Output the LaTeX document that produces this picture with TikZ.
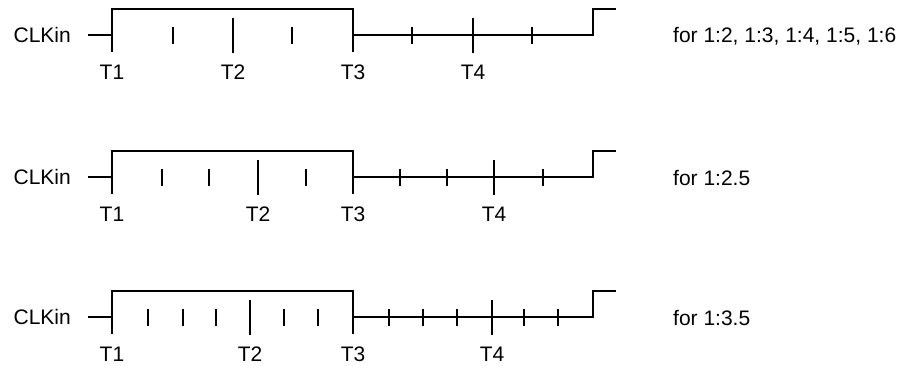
\documentclass[tikz,border=0pt]{standalone}
\usepackage{fontspec}
\setmainfont{Liberation Sans}
\usetikzlibrary{positioning}

\begin{document}
\begin{tikzpicture}[x=1pt, y=-1pt,
wave/.style={line width=2.5pt},
lbl/.style={inner sep=0pt, font=\fontsize{21}{25}\selectfont},
]
\useasboundingbox (0,0) rectangle (909,366);

%Row 1
\begin{scope}[yshift=-35pt]
\node[lbl, anchor=east] (clk1)   at (71,0)  {CLKin};
\node[lbl]              (t1a)    at (112,37) {T1};
\node[lbl]              (t2a)    at (233,37) {T2};
\node[lbl]              (t3a)    at (353,37) {T3};
\node[lbl]              (t4a)    at (473,37) {T4};
\node[lbl, anchor=west] (ratio1) at (673,1)  {for 1:2, 1:3, 1:4, 1:5, 1:6};
\draw[wave] ([xshift=17pt]clk1.east) -- (112,0);
\draw[wave] (112,17) -- (112,-26) -- (353,-26) -- (353,17);
\draw[wave] (353,0) -- (593,0) -- (593,-26) -- (616,-26);
\foreach \x in {173,292,412,532} \draw[wave] (\x,-8) -- (\x,9);
\foreach \x in {233,473} \draw[wave] (\x,-17) -- (\x,18);
\end{scope}

%Row 2
\begin{scope}[yshift=-177pt]
\node[lbl, anchor=east] (clk2)   at (71,0)  {CLKin};
\node[lbl]              (t1b)    at (112,37) {T1};
\node[lbl]              (t2b)    at (258,37) {T2};
\node[lbl]              (t3b)    at (353,37) {T3};
\node[lbl]              (t4b)    at (494,37) {T4};
\node[lbl, anchor=west] (ratio2) at (673,1)  {for 1:2.5};
\draw[wave] ([xshift=17pt]clk2.east) -- (112,0);
\draw[wave] (112,17) -- (112,-26) -- (353,-26) -- (353,17);
\draw[wave] (353,0) -- (593,0) -- (593,-26) -- (616,-26);
\foreach \x in {162,209,306,400,447,543} \draw[wave] (\x,-8) -- (\x,9);
\foreach \x in {258,494} \draw[wave] (\x,-17) -- (\x,18);
\end{scope}

%Row 3
\begin{scope}[yshift=-317pt]
\node[lbl, anchor=east] (clk3)   at (71,0)  {CLKin};
\node[lbl]              (t1c)    at (112,37) {T1};
\node[lbl]              (t2c)    at (250,37) {T2};
\node[lbl]              (t3c)    at (353,37) {T3};
\node[lbl]              (t4c)    at (492,37) {T4};
\node[lbl, anchor=west] (ratio3) at (673,1)  {for 1:3.5};
\draw[wave] ([xshift=17pt]clk3.east) -- (112,0);
\draw[wave] (112,17) -- (112,-26) -- (353,-26) -- (353,17);
\draw[wave] (353,0) -- (593,0) -- (593,-26) -- (616,-26);
\foreach \x in {148,183,216,284,318,389,423,457,524,558} \draw[wave] (\x,-8) -- (\x,9);
\foreach \x in {250,492} \draw[wave] (\x,-17) -- (\x,18);
\end{scope}
\end{tikzpicture}
\end{document}
